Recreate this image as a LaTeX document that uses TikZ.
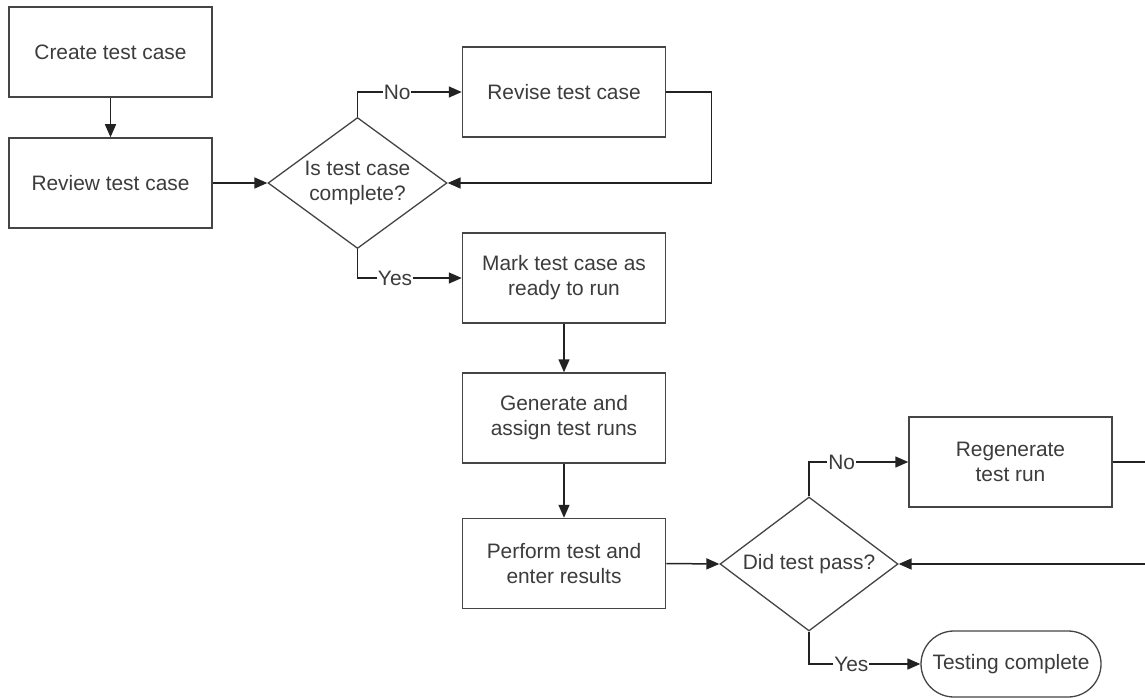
\documentclass[tikz,border=0pt]{standalone}
\usepackage{fontspec}
\setmainfont{Liberation Sans}
\usetikzlibrary{shapes.geometric,shapes.misc,arrows.meta}
\definecolor{txt}{HTML}{3C3C3C}
\definecolor{ln}{HTML}{454545}
\definecolor{cn}{HTML}{222222}
\begin{document}
\begin{tikzpicture}[x=1pt,y=-1pt,
  every node/.style={font=\fontsize{20.9}{25}\selectfont, text=txt},
  proc/.style={draw=ln, line width=1.5pt, rectangle, minimum width=203pt, minimum height=90pt, align=center, inner sep=0pt},
  decision/.style={draw=ln, line width=1.3pt, diamond, shape aspect=1.366, inner sep=0pt, align=center},
  term/.style={draw=ln, line width=1.3pt, rounded rectangle, minimum width=180pt, minimum height=66pt, inner sep=0pt},
  conn/.style={draw=cn, line width=1.5pt, -{Triangle[length=13pt,width=11pt]}},
  lbl/.style={fill=white, inner sep=1pt}]
\useasboundingbox (0,0) rectangle (1145,698);
\clip (0,0) rectangle (1145,698);
\fill[white] (0,0) rectangle (1145,698);

\node[proc] (create) at (110.5,52) {Create test case};
\node[proc] (review) at (110.5,183) {Review test case};
\node[decision, minimum width=179pt, minimum height=131pt] (dec1) at (357.5,183) {Is test case\\complete?};
\node[proc] (revise) at (564,92) {Revise test case};
\node[proc] (mark) at (564,278) {Mark test case as\\ready to run};
\node[proc] (gen) at (564,418) {Generate and\\assign test runs};
\node[proc] (perf) at (564,563.5) {Perform test and\\enter results};
\node[decision, minimum width=178pt, minimum height=134pt] (dec2) at (809,564) {Did test pass?};
\node[proc] (regen) at (1010.5,462) {Regenerate\\test run};
\node[term] (done) at (1011,664) {Testing complete};

\draw[conn] (create) -- (review);
\draw[conn] (review) -- (dec1);
\draw[conn] (dec1.north) |- (revise.west) node[lbl, pos=0.69] {No};
\draw[conn] (revise.east) -- ++(45,0) |- (dec1.east);
\draw[conn] (dec1.south) |- (mark.west) node[lbl, pos=0.68] {Yes};
\draw[conn] (mark) -- (gen);
\draw[conn] (gen) -- (perf);
\draw[conn] (perf.east) -- (dec2.west);
\draw[conn] (dec2.north) |- (regen.west) node[lbl, pos=0.665] {No};
\draw[conn] (regen.east) -- ++(60,0) |- (dec2.east);
\draw[conn] (dec2.south) |- (done.west) node[lbl, pos=0.69] {Yes};
\end{tikzpicture}
\end{document}
